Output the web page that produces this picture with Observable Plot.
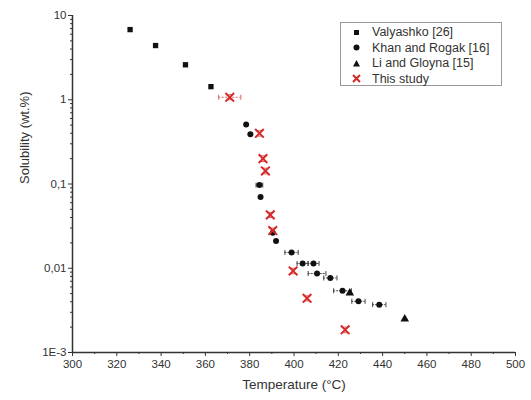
<!DOCTYPE html>
<html>
<head>
<meta charset="utf-8">
<script src="https://cdn.jsdelivr.net/npm/d3@7"></script>
<script src="https://cdn.jsdelivr.net/npm/@observablehq/plot@0.6"></script>
<style>
body{margin:0;background:#fff;font-family:"Liberation Sans",Arial,sans-serif;}
#wrap{position:relative;width:531px;height:400px;}
#legend{position:absolute;left:340px;top:22px;width:162px;height:64px;border:1.5px solid #999;box-sizing:border-box;font-size:12.5px;color:#333;background:#fff;}
.row{position:absolute;left:0;height:16px;display:flex;align-items:center;}
.row svg{margin-left:10px;margin-right:10px;}
</style>
</head>
<body>
<div id="wrap"></div>
<script>
// Valyashko [26]
const valT = [326, 337.5, 351, 362.5];
const valS = [6.8, 4.4, 2.6, 1.43];
// Khan and Rogak [16]
const khanT = [378.4, 380.3, 384.4, 384.9, 390.4, 391.9, 398.9, 403.9, 408.8, 410.4, 416.4, 421.9, 429.1, 438.5];
const khanS = [0.51, 0.39, 0.097, 0.070, 0.0263, 0.021, 0.0154, 0.0114, 0.0114, 0.00865, 0.00767, 0.0054, 0.00405, 0.0037];
const khanErr = [0, 0, 1.5, 0, 0, 0, 3, 2.5, 2.5, 4, 3, 4, 3, 3];
// Li and Gloyna [15]
const liT = [425.2, 450];
const liS = [0.0051, 0.0025];
// This study
const stT = [371, 384.4, 386, 387.1, 389.3, 390.4, 399.6, 405.9, 423.1];
const stS = [1.07, 0.40, 0.20, 0.143, 0.043, 0.028, 0.0093, 0.0044, 0.00186];
const stXErr = [5, 0, 0, 0, 0, 0, 0, 0, 0];
const stYLo = [1.0, 0.37, 0.185, 0.132, 0.040, 0.026, 0.0086, 0.0041, 0.00172];
const stYHi = [1.15, 0.43, 0.216, 0.154, 0.046, 0.030, 0.0100, 0.0047, 0.00200];

const yTicks = [10, 1, 0.1, 0.01, 0.001];
const yTickLabels = ["10", "1", "0,1", "0,01", "1E-3"];
const xTicks = [300, 320, 340, 360, 380, 400, 420, 440, 460, 480, 500];
const xMinor = [310, 330, 350, 370, 390, 410, 430, 450, 470, 490];
const yMinor = [];
[0.001, 0.01, 0.1, 1].forEach(d => { for (let k = 2; k <= 9; k++) yMinor.push(d * k); });

const val = valT.map((t, i) => ({t, s: valS[i]}));
const khan = khanT.map((t, i) => ({t, s: khanS[i], e: khanErr[i]}));
const li = liT.map((t, i) => ({t, s: liS[i]}));
const st = stT.map((t, i) => ({t, s: stS[i], e: stXErr[i], lo: stYLo[i], hi: stYHi[i]}));

const khanE = khan.filter(d => d.e > 0);
const stE = st.filter(d => d.e > 0);

const vcap = {draw(ctx, size) { const h = 2.5; ctx.moveTo(0, -h); ctx.lineTo(0, h); }};
const hcap = {draw(ctx, size) { const h = 3.5; ctx.moveTo(-h, 0); ctx.lineTo(h, 0); }};

const tickLabel = d => yTickLabels[yTicks.indexOf(d)];

const chart = Plot.plot({
  width: 531, height: 400,
  marginLeft: 72, marginRight: 16, marginTop: 15, marginBottom: 48,
  style: {fontFamily: "Liberation Sans, Arial, sans-serif", fontSize: "12px", color: "#333", background: "#fff"},
  x: {domain: [300, 500]},
  y: {type: "log", domain: [0.001, 10]},
  marks: [
    Plot.axisX({ticks: xTicks, tickSize: 4, tickPadding: 3, tickFormat: d => d, label: null, fontSize: 11.5}),
    Plot.axisX({ticks: xMinor, tickSize: 2, tickFormat: () => "", label: null}),
    Plot.axisY({ticks: yTicks, tickSize: 4, tickPadding: 2, tickFormat: tickLabel, label: null, fontSize: 11.5}),
    Plot.axisY({ticks: yMinor, tickSize: 2, tickFormat: () => "", label: null}),
    Plot.text(["Temperature (°C)"], {frameAnchor: "bottom", dy: 36, fontSize: 13.5, fill: "#333"}),
    Plot.text(["Solubility (wt.%)"], {frameAnchor: "left", dx: -48, rotate: -90, fontSize: 13, fill: "#333"}),
    Plot.ruleX([300], {stroke: "#333", strokeWidth: 1.5}),
    Plot.ruleY([0.001], {stroke: "#333", strokeWidth: 1.5}),
    // Khan error bars
    Plot.ruleY(khanE, {y: "s", x1: d => d.t - d.e, x2: d => d.t + d.e, stroke: "#444", strokeWidth: 1, strokeDasharray: "2,1"}),
    Plot.dot(khanE, {x: d => d.t - d.e, y: "s", symbol: vcap, stroke: "#444", strokeWidth: 1}),
    Plot.dot(khanE, {x: d => d.t + d.e, y: "s", symbol: vcap, stroke: "#444", strokeWidth: 1}),
    // This study error bars
    Plot.ruleY(stE, {y: "s", x1: d => d.t - d.e, x2: d => d.t + d.e, stroke: "#e06060", strokeWidth: 1, strokeDasharray: "2,1.5"}),
    Plot.dot(stE, {x: d => d.t - d.e, y: "s", symbol: vcap, stroke: "#e06060", strokeWidth: 1}),
    Plot.dot(stE, {x: d => d.t + d.e, y: "s", symbol: vcap, stroke: "#e06060", strokeWidth: 1}),
    Plot.dot(st, {x: "t", y: "lo", symbol: hcap, stroke: "#e06060", strokeWidth: 1}),
    Plot.dot(st, {x: "t", y: "hi", symbol: hcap, stroke: "#e06060", strokeWidth: 1}),
    // data
    Plot.dot(val, {x: "t", y: "s", symbol: "square", r: 3, fill: "#111"}),
    Plot.dot(khan, {x: "t", y: "s", symbol: "circle", r: 3, fill: "#111"}),
    Plot.dot(li, {x: "t", y: "s", symbol: "triangle", r: 3.2, fill: "#111"}),
    Plot.dot(st, {x: "t", y: "s", symbol: "times", r: 4, stroke: "#d42a2a", strokeWidth: 2})
  ]
});

const wrap = document.getElementById("wrap");
wrap.appendChild(chart);

const legendItems = [
  {label: "Valyashko [26]", sym: '<rect x="3" y="3" width="5" height="5" fill="#111"/>'},
  {label: "Khan and Rogak [16]", sym: '<circle cx="5.5" cy="5.5" r="3" fill="#111"/>'},
  {label: "Li and Gloyna [15]", sym: '<path d="M5.5,2 L9,8.5 L2,8.5 Z" fill="#111"/>'},
  {label: "This study", sym: '<path d="M2,2 L9,9 M9,2 L2,9" stroke="#d42a2a" stroke-width="2"/>'}
];
const leg = document.createElement("div");
leg.id = "legend";
legendItems.forEach((it, i) => {
  const r = document.createElement("div");
  r.className = "row";
  r.style.top = (1 + i * 15.5) + "px";
  r.innerHTML = '<svg width="11" height="11">' + it.sym + '</svg><span>' + it.label + '</span>';
  leg.appendChild(r);
});
wrap.appendChild(leg);
</script>
</body>
</html>
